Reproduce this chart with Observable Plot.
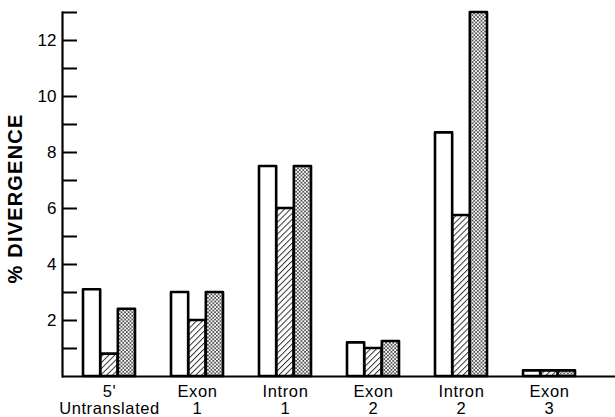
<!DOCTYPE html>
<html>
<head>
<meta charset="utf-8">
<script src="https://cdn.jsdelivr.net/npm/d3@7"></script>
<script src="https://cdn.jsdelivr.net/npm/@observablehq/plot@0.6"></script>
<style>
html, body { margin: 0; padding: 0; background: #fff; }
#chart svg { display: block; }
#chart g[aria-label="x-axis tick label"] text { letter-spacing: 0.6px; }
</style>
</head>
<body>
<svg width="0" height="0" style="position:absolute">
  <defs>
    <pattern id="hatch" patternUnits="userSpaceOnUse" width="4.2" height="4.2" patternTransform="rotate(45)">
      <rect width="4.2" height="4.2" fill="#fff"></rect>
      <line x1="0.5" y1="0" x2="0.5" y2="4.2" stroke="#222" stroke-width="0.9"></line>
    </pattern>
    <pattern id="stipple" patternUnits="userSpaceOnUse" width="3.6" height="3.6">
      <rect width="3.6" height="3.6" fill="#fff"></rect>
      <circle cx="0.9" cy="0.9" r="0.8" fill="#000"></circle>
      <circle cx="2.7" cy="2.7" r="0.8" fill="#000"></circle>
    </pattern>
  </defs>
</svg>
<div id="chart"></div>
<script>
// ---- data ----
const categories = ["5'\nUntranslated", "Exon\n1", "Intron\n1", "Exon\n2", "Intron\n2", "Exon\n3"];
const seriesOpen = [3.1, 3.0, 7.5, 1.2, 8.7, 0.2];
const seriesHatched = [0.8, 2.0, 6.0, 1.0, 5.75, 0.2];
const seriesStippled = [2.4, 3.0, 7.5, 1.25, 13.0, 0.2];
const yTicksMajor = [2, 4, 6, 8, 10, 12];
const yTicksAll = [1, 2, 3, 4, 5, 6, 7, 8, 9, 10, 11, 12, 13];
const yLabel = "% DIVERGENCE";

// ---- layout ----
const W = 615, H = 417;
const ML = 62, MR = 0, MT = 12, MB = 41;
const xRange = [62, 596];
const padIn = 0.41, padOut = 0.22;
const step = (xRange[1] - xRange[0]) / (categories.length - padIn + 2 * padOut);
const bw = step * (1 - padIn);
const third = bw / 3;

const series = [
  {values: seriesOpen, fill: "#fff"},
  {values: seriesHatched, fill: "url(#hatch)"},
  {values: seriesStippled, fill: "url(#stipple)"}
];

const barMarks = series.map((s, i) => Plot.barY(
  categories.map((c, j) => ({category: c, value: s.values[j]})),
  {
    x: "category", y: "value",
    fill: s.fill, stroke: "#000", strokeWidth: 2.6, strokeLinejoin: "round",
    insetLeft: i * third, insetRight: (2 - i) * third
  }
));

const chart = Plot.plot({
  width: W, height: H,
  marginLeft: ML, marginRight: MR, marginTop: MT, marginBottom: MB,
  style: {fontFamily: "'Liberation Sans', Arial, sans-serif", color: "#000", background: "#fff"},
  x: {type: "band", domain: categories, range: xRange, paddingInner: padIn, paddingOuter: padOut},
  y: {domain: [0, 13]},
  marks: [
    ...barMarks,
    Plot.ruleY([0], {stroke: "#000", strokeWidth: 2}),
    Plot.frame({anchor: "left", stroke: "#000", strokeWidth: 2.2}),
    Plot.tickY(yTicksAll, {y: d => d, stroke: "#000", strokeWidth: 2, insetRight: W - ML - MR - 15}),
    Plot.axisY({ticks: yTicksMajor, tickSize: 0, tickPadding: 6, fontSize: 17, label: null}),
    Plot.axisX({tickSize: 0, tickPadding: 8, fontSize: 16.5, label: null, lineHeight: 1.05}),
    Plot.text([yLabel], {text: d => d, frameAnchor: "left", textAnchor: "middle", dx: -47, dy: 4, rotate: -90, fontSize: 20, fontWeight: "bold"})
  ]
});
document.getElementById("chart").appendChild(chart);
d3.select(chart).selectAll("text").filter(function() { return this.textContent === yLabel; }).style("letter-spacing", "1.2px");
</script>
</body>
</html>
